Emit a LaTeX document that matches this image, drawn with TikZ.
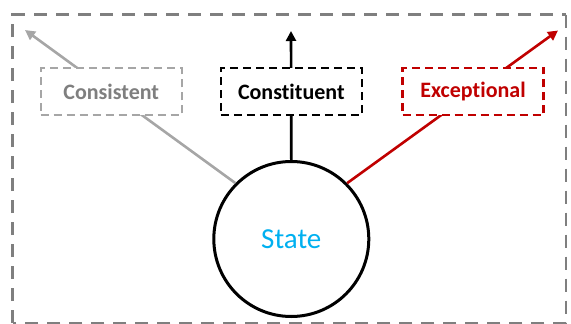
\documentclass[tikz,border=0pt]{standalone}
\usepackage{fontspec}
\setmainfont{Carlito}[Ligatures=NoCommon]
\usetikzlibrary{arrows.meta}
\definecolor{frameGray}{HTML}{7F7F7F}
\definecolor{lightGray}{HTML}{A6A6A6}
\definecolor{darkRed}{HTML}{C00000}
\definecolor{skyBlue}{HTML}{00B0F0}
\begin{document}
\begin{tikzpicture}[x=1pt,y=-1pt,
  labelbox/.style={dashed, line width=2.3pt, dash pattern=on 8pt off 5pt,
    fill=white, minimum width=141pt, minimum height=47pt, inner sep=0pt,
    font=\fontsize{22}{26}\selectfont\bfseries},
  link/.style={line width=2.6pt},
  tip/.style={-{Triangle[length=10pt,width=10pt]}}]
\useasboundingbox (0,0) rectangle (571,324);
% outer dashed frame
\draw[frameGray, line width=2.7pt, dash pattern=on 13pt off 9pt] (12.5,323) -- (12.5,14.7) -- (566,14.7);
\draw[frameGray, line width=1.2pt, dash pattern=on 13pt off 9pt] (566,14.7) -- (566,323) -- (12.5,323);
% central state
\node[circle, draw, line width=3pt, minimum size=155pt, inner sep=0pt,
      text=skyBlue, font=\fontsize{29}{34}\selectfont] (state) at (291.3,239) {State};
% arrow ends
\coordinate (tipL) at (25,30);
\coordinate (tipC) at (291,31);
\coordinate (tipR) at (558,30.5);
% connectors
\draw[link, tip, lightGray] (state.135) -- (tipL);
\draw[link, tip, black] (state.north) -- (tipC);
\draw[link, tip, darkRed] (state.45) -- (tipR);
% labels
\node[labelbox, draw=lightGray, text=frameGray] (cons) at (111.2,91.8) {Consistent};
\node[labelbox, draw=black, text=black] (const) at (291.3,91.5) {Constituent};
\node[labelbox, draw=darkRed, text=darkRed] (exc) at (473,91.8) {Exceptional};
\end{tikzpicture}
\end{document}
